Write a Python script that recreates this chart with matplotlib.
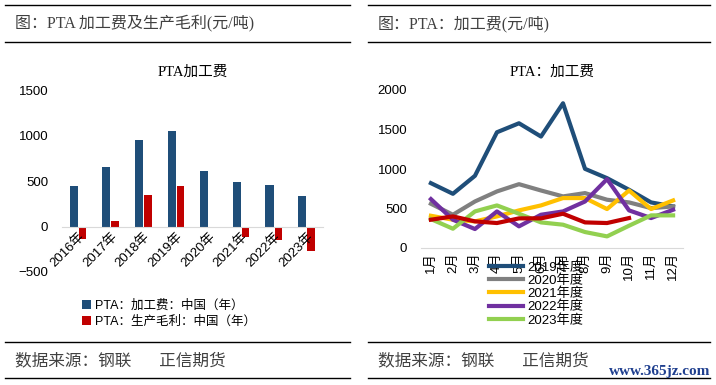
import matplotlib
matplotlib.use('Agg')
import matplotlib.pyplot as plt
from matplotlib.lines import Line2D

plt.rcParams['font.family'] = ['Liberation Sans', 'Noto Sans CJK SC', 'DejaVu Sans']
serif = ['Liberation Serif', 'Noto Sans CJK SC', 'DejaVu Sans']

# left chart: yearly processing fee and gross margin
years = ['2016年', '2017年', '2018年', '2019年', '2020年', '2021年', '2022年', '2023年']
fee = [441, 651, 956, 1048, 614, 493, 460, 338]
margin = [-136, 62, 349, 441, 0, -110, -147, -265]

# right chart: monthly processing fee by year
months = ['1月', '2月', '3月', '4月', '5月', '6月', '7月', '8月', '9月', '10月', '11月', '12月']
fee_2019 = [821, 686, 914, 1465, 1579, 1411, 1832, 1002, 884, 737, 577, 526]
fee_2020 = [560, 421, 589, 716, 808, 728, 653, 695, 611, 577, 505, 526]
fee_2021 = [408, 358, 337, 400, 476, 539, 632, 632, 493, 728, 493, 602]
fee_2022 = [619, 358, 240, 463, 274, 421, 463, 589, 872, 476, 379, 484]
fee_2023 = [366, 244, 463, 539, 434, 324, 295, 202, 147, 282, 413, 413]
fee_2024 = [358, 400, 337, 316, 375, 375, 434, 324, 316, 379]

W, H = 716, 385
fig = plt.figure(figsize=(W / 100, H / 100), dpi=100)


def px_axes(x0, y0, x1, y1):
    return fig.add_axes([x0 / W, 1 - y1 / H, (x1 - x0) / W, (y1 - y0) / H])


def hline(x0, x1, y):
    fig.add_artist(Line2D([x0 / W, x1 / W], [1 - y / H, 1 - y / H], color='black', lw=1.0))


def ftext(x, y, s, **kw):
    fig.text(x / W, 1 - y / H, s, **kw)


grey = '#404040'

# panel frames
for a, b in [(5, 350), (368, 710)]:
    hline(a, b, 5)
    hline(a, b, 42)
    hline(a, b, 342)
    hline(a, b, 378)

ftext(15, 24, '图：PTA 加工费及生产毛利(元/吨)', fontsize=11.5, color=grey, va='center', family=serif)
ftext(378, 24, '图：PTA：加工费(元/吨)', fontsize=11.5, color=grey, va='center', family=serif)
ftext(15, 360, '数据来源：钢联      正信期货', fontsize=12, color=grey, va='center')
ftext(378, 360, '数据来源：钢联      正信期货', fontsize=12, color=grey, va='center')
ftext(710, 372, 'www.365jz.com', fontsize=11, color='#1F3F8F', va='center', ha='right',
      fontweight='bold', family='Liberation Serif')

# left bar chart
ax1 = px_axes(62, 90, 323, 272)
x = list(range(len(years)))
ax1.bar([i - 0.14 for i in x], fee, width=0.25, color='#1F4E79')
ax1.bar([i + 0.13 for i in x], margin, width=0.23, color='#C00000')
ax1.set_xlim(-0.5, len(years) - 0.5)
ax1.set_ylim(-500, 1500)
ax1.set_yticks([-500, 0, 500, 1000, 1500])
for s in ['top', 'right', 'left']:
    ax1.spines[s].set_visible(False)
ax1.spines['bottom'].set_position(('data', 0))
ax1.spines['bottom'].set_color('#D9D9D9')
ax1.set_xticks(x)
ax1.set_xticklabels(years, rotation=45, ha='right', va='top', rotation_mode='anchor', fontsize=9.5)
ax1.tick_params(axis='x', length=0, pad=3)
ax1.tick_params(axis='y', length=0, labelsize=9.5, pad=10)
ax1.set_title('PTA加工费', fontsize=10.5, pad=10, family=serif)

ax1.legend(['PTA：加工费：中国（年）', 'PTA：生产毛利：中国（年）'],
           loc='upper left', bbox_to_anchor=(82 / W, 1 - 300 / H), bbox_transform=fig.transFigure,
           frameon=False, fontsize=9, handlelength=0.7, handleheight=0.7, handletextpad=0.3,
           labelspacing=0.3, borderpad=0, borderaxespad=0)

# right line chart
ax2 = px_axes(421, 90, 683, 248)
series = [(fee_2019, '#1F4E79', '2019年度'), (fee_2020, '#808080', '2020年度'),
          (fee_2021, '#FFC000', '2021年度'), (fee_2022, '#7030A0', '2022年度'),
          (fee_2023, '#92D050', '2023年度')]
handles = []
for vals, c, lab in series:
    h, = ax2.plot(range(len(vals)), vals, color=c, lw=3, label=lab)
    handles.append(h)
ax2.plot(range(len(fee_2024)), fee_2024, color='#C00000', lw=3)
ax2.set_xlim(-0.45, 11.45)
ax2.set_ylim(0, 2000)
ax2.set_yticks([0, 500, 1000, 1500, 2000])
for s in ['top', 'right', 'left']:
    ax2.spines[s].set_visible(False)
ax2.spines['bottom'].set_color('#D9D9D9')
ax2.set_xticks(range(len(months)))
ax2.set_xticklabels(months, rotation=90, fontsize=9.5)
ax2.tick_params(axis='x', length=0, pad=3)
ax2.tick_params(axis='y', length=0, labelsize=9.5, pad=10)
ax2.set_title('PTA：加工费', fontsize=10.5, pad=10, family=serif)

fig.legend(handles=handles, loc='upper left', bbox_to_anchor=(489 / W, 1 - 261 / H),
           frameon=False, fontsize=9.5, handlelength=2.6, handletextpad=0.3,
           labelspacing=0.05, borderpad=0, borderaxespad=0)

fig.savefig('out.png', dpi=100)
